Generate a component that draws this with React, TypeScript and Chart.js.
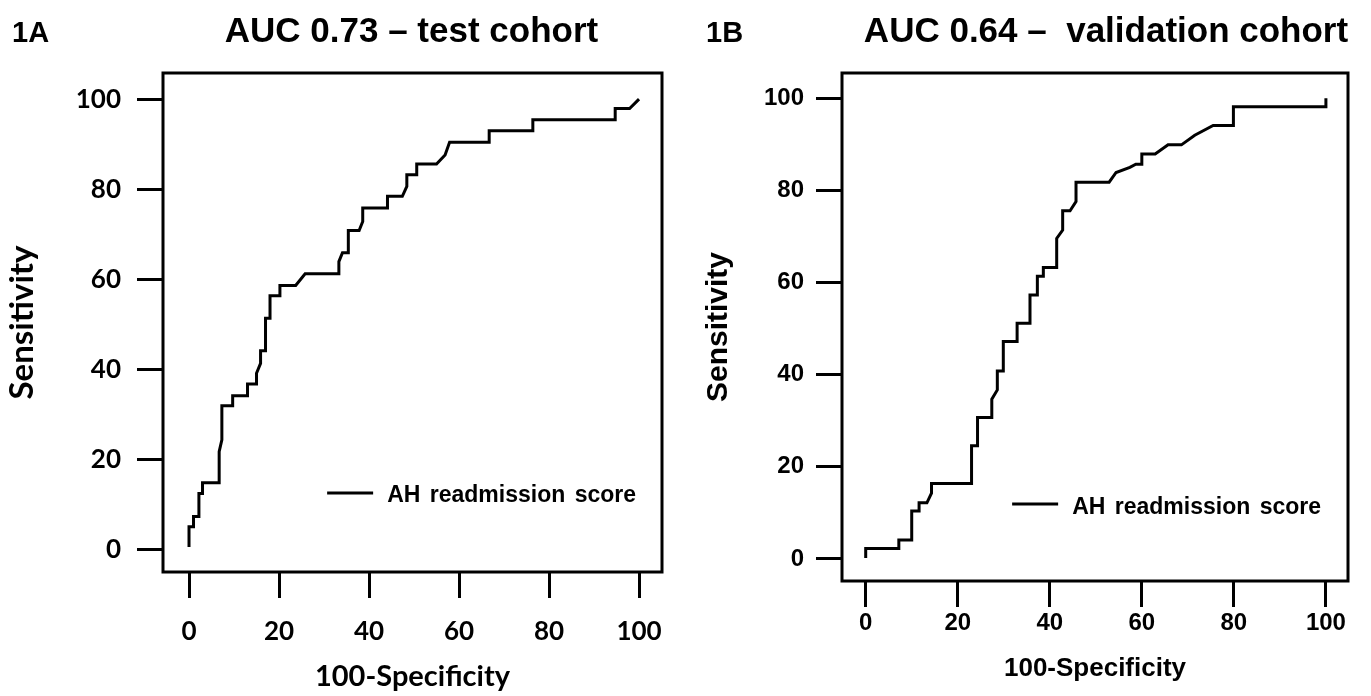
import React, { useEffect, useRef } from 'react';
import { Chart, registerables } from 'chart.js';

Chart.register(...registerables);

// ---------- data ----------
const tickValues = [0, 20, 40, 60, 80, 100];
const seriesLabel = 'AH readmission score';

const panelLabels = ['1A', '1B'];
const panelTitles = ['AUC 0.73 \u2013 test cohort', 'AUC 0.64 \u2013  validation cohort'];
const xAxisTitle = '100-Specificity';
const yAxisTitle = 'Sensitivity';

// Test cohort ROC curve vertices (100-specificity, sensitivity)
const testFpr = [
  0, 0, 1.0, 1.0, 2.2, 2.2, 3.0, 3.0, 6.7, 6.7, 7.3, 7.3, 9.7, 9.7, 13.0, 13.0,
  15.0, 15.0, 15.9, 15.9, 17.0, 17.0, 18.0, 18.0, 20.2, 20.2, 23.7, 25.8, 33.3, 33.3,
  34.1, 35.4, 35.4, 37.8, 38.6, 38.6, 44.1, 44.1, 47.4, 48.4, 48.4, 50.6, 50.6, 55.0,
  56.9, 57.9, 66.7, 66.7, 76.4, 76.4, 94.7, 94.7, 97.9, 100,
];
const testSens = [
  0.5, 5.0, 5.0, 7.3, 7.3, 12.4, 12.4, 14.8, 14.8, 21.7, 24.3, 31.9, 31.9, 34.1, 34.1, 36.7,
  36.7, 39.1, 41.3, 44.1, 44.1, 51.3, 51.3, 56.3, 56.3, 58.6, 58.6, 61.2, 61.2, 63.9,
  65.9, 65.9, 70.8, 70.8, 72.8, 75.8, 75.8, 78.4, 78.4, 80.6, 83.2, 83.2, 85.6, 85.6,
  87.6, 90.4, 90.4, 93.0, 93.0, 95.4, 95.4, 97.9, 97.9, 100,
];

// Validation cohort ROC curve vertices
const valFpr = [
  0, 0, 7.2, 7.2, 10.0, 10.0, 11.6, 11.6, 13.3, 14.3, 14.3, 23.0, 23.0, 24.3, 24.3,
  27.4, 27.4, 28.6, 28.6, 29.9, 29.9, 32.9, 32.9, 35.7, 35.7, 37.3, 37.3, 38.6, 38.6,
  41.5, 41.5, 42.8, 42.8, 44.4, 45.7, 45.7, 52.9, 54.4, 57.4, 58.7, 60.0, 60.0, 62.9,
  65.7, 68.6, 71.5, 75.5, 79.9, 79.9, 100, 100,
];
const valSens = [
  0.2, 2.3, 2.3, 4.1, 4.1, 10.4, 10.4, 12.2, 12.2, 14.3, 16.4, 16.4, 24.6, 24.6, 30.7,
  30.7, 34.7, 36.7, 40.8, 40.8, 47.2, 47.2, 51.2, 51.2, 57.3, 57.3, 61.4, 61.4, 63.3,
  63.3, 69.6, 71.4, 75.6, 75.6, 77.6, 81.8, 81.8, 83.9, 85.0, 85.7, 85.7, 87.9, 87.9,
  89.9, 89.9, 92.0, 94.1, 94.1, 98.2, 98.2, 100,
];

// ---------- plugins ----------
const framePlugin = {
  id: 'frame',
  afterDatasetsDraw(chart: any, _args: any, opts: any) {
    const { ctx, chartArea } = chart;
    const { left, top, right, bottom } = chartArea;
    ctx.save();
    ctx.lineWidth = opts.width ?? 3;
    ctx.strokeStyle = opts.color ?? '#000';
    ctx.lineJoin = 'miter';
    ctx.strokeRect(left, top, right - left, bottom - top);
    ctx.restore();
  },
};

const headingPlugin = {
  id: 'heading',
  afterDraw(chart: any, _args: any, opts: any) {
    const { ctx, chartArea } = chart;
    ctx.save();
    ctx.fillStyle = '#000';
    ctx.textBaseline = 'alphabetic';
    ctx.textAlign = 'left';
    ctx.font = opts.labelFont;
    ctx.fillText(opts.label, opts.labelX, opts.baseline);
    ctx.font = opts.font;
    ctx.textAlign = 'center';
    ctx.fillText(opts.title, (chartArea.left + chartArea.right) / 2 + opts.titleDx, opts.baseline);
    ctx.restore();
  },
};

const insideLegendPlugin = {
  id: 'insideLegend',
  afterDraw(chart: any, _args: any, opts: any) {
    const { ctx, chartArea } = chart;
    const ds = chart.data.datasets[0];
    ctx.save();
    ctx.font = opts.font;
    try { (ctx as any).wordSpacing = opts.wordSpacing; } catch (e) { /* ignore */ }
    const w = ctx.measureText(ds.label).width;
    const textX = chartArea.right - opts.right - w;
    const baseY = chartArea.bottom - opts.bottom;
    ctx.fillStyle = '#000';
    ctx.textAlign = 'left';
    ctx.textBaseline = 'alphabetic';
    ctx.fillText(ds.label, textX, baseY);
    ctx.strokeStyle = ds.borderColor;
    ctx.lineWidth = ds.borderWidth;
    ctx.lineCap = 'butt';
    ctx.beginPath();
    ctx.moveTo(textX - opts.gap - opts.lineLength, baseY - opts.lineRise);
    ctx.lineTo(textX - opts.gap, baseY - opts.lineRise);
    ctx.stroke();
    ctx.restore();
  },
};

// ---------- panel ----------
type PanelCfg = {
  xs: number[];
  ys: number[];
  label: string;
  title: string;
  xMin: number; xMax: number; yMin: number; yMax: number;
  yAxisWidth: number; xAxisHeight: number;
  padTop: number; padRight: number;
  axisFamily: string;
  tickSize: number;
  xTitleSize: number; yTitleSize: number;
  xTickPad: number; yTickPad: number;
  xTitlePad: number; yTitlePad: number;
  labelX: number; titleDx: number; titleBaseline: number;
  legendRight: number; legendBottom: number; legendLineRise: number;
};

function Panel({ cfg, left, width }: { cfg: PanelCfg; left: number; width: number }) {
  const ref = useRef<HTMLCanvasElement | null>(null);
  useEffect(() => {
    if (!ref.current) return;
    const points = cfg.xs.map((x, i) => ({ x, y: cfg.ys[i] }));
    const setTicks = (scale: any) => {
      scale.ticks = tickValues.map((v) => ({ value: v }));
    };
    const grid = {
      display: true,
      drawOnChartArea: false,
      drawTicks: true,
      tickLength: 26,
      tickWidth: 3,
      tickColor: '#000',
      color: '#000',
      lineWidth: 3,
    };
    const chart = new Chart(ref.current, {
      type: 'scatter',
      data: {
        datasets: [
          {
            label: seriesLabel,
            data: points,
            showLine: true,
            borderColor: '#000',
            backgroundColor: '#000',
            borderWidth: 3,
            pointRadius: 0,
            pointHoverRadius: 0,
            tension: 0,
            borderJoinStyle: 'miter',
            borderCapStyle: 'butt',
          } as any,
        ],
      },
      options: {
        animation: false,
        responsive: true,
        maintainAspectRatio: false,
        devicePixelRatio: 1,
        events: [],
        layout: { padding: { top: cfg.padTop, right: cfg.padRight, left: 0, bottom: 0 } },
        scales: {
          x: {
            type: 'linear',
            min: cfg.xMin,
            max: cfg.xMax,
            afterBuildTicks: setTicks,
            afterFit: (s: any) => { s.height = cfg.xAxisHeight; },
            grid: grid as any,
            border: { display: false },
            ticks: {
              color: '#000',
              padding: cfg.xTickPad,
              maxRotation: 0,
              font: { family: cfg.axisFamily, size: cfg.tickSize, weight: 'bold' },
            },
            title: {
              display: true,
              text: xAxisTitle,
              color: '#000',
              padding: { top: 0, bottom: cfg.xTitlePad },
              font: { family: cfg.axisFamily, size: cfg.xTitleSize, weight: 'bold' },
            },
          },
          y: {
            type: 'linear',
            min: cfg.yMin,
            max: cfg.yMax,
            afterBuildTicks: setTicks,
            afterFit: (s: any) => { s.width = cfg.yAxisWidth; },
            grid: grid as any,
            border: { display: false },
            ticks: {
              color: '#000',
              padding: cfg.yTickPad,
              font: { family: cfg.axisFamily, size: cfg.tickSize, weight: 'bold' },
            },
            title: {
              display: true,
              text: yAxisTitle,
              color: '#000',
              padding: { top: cfg.yTitlePad, bottom: 0 },
              font: { family: cfg.axisFamily, size: cfg.yTitleSize, weight: 'bold' },
            },
          },
        },
        plugins: {
          legend: { display: false },
          title: { display: false },
          tooltip: { enabled: false },
          frame: { width: 3, color: '#000' },
          heading: {
            font: 'bold 35px "Liberation Sans", Arial, sans-serif',
            labelFont: 'bold 29px "Liberation Sans", Arial, sans-serif',
            label: cfg.label,
            labelX: cfg.labelX,
            title: cfg.title,
            titleDx: cfg.titleDx,
            baseline: cfg.titleBaseline,
          },
          insideLegend: {
            font: 'bold 23px "Liberation Sans", Arial, sans-serif',
            wordSpacing: '3px',
            right: cfg.legendRight,
            bottom: cfg.legendBottom,
            gap: 14,
            lineLength: 46,
            lineRise: cfg.legendLineRise,
          },
        } as any,
      },
      plugins: [framePlugin, headingPlugin, insideLegendPlugin],
    });
    return () => chart.destroy();
  }, [cfg]);

  return (
    <div style={{ position: 'absolute', left, top: 0, width, height: 696 }}>
      <canvas ref={ref} />
    </div>
  );
}

const panelA: PanelCfg = {
  xs: testFpr, ys: testSens, label: panelLabels[0], title: panelTitles[0],
  xMin: -5.78, xMax: 105.1, yMin: -5.04, yMax: 105.8,
  yAxisWidth: 163, xAxisHeight: 124, padTop: 73, padRight: 28,
  axisFamily: 'Lato, "Open Sans", sans-serif',
  tickSize: 26, xTitleSize: 29, yTitleSize: 33,
  xTickPad: 18, yTickPad: 16, xTitlePad: 2, yTitlePad: 3,
  labelX: 12, titleDx: -1, titleBaseline: 42,
  legendRight: 26, legendBottom: 70, legendLineRise: 9,
};

const panelB: PanelCfg = {
  xs: valFpr, ys: valSens, label: panelLabels[1], title: panelTitles[1],
  xMin: -5.15, xMax: 104.8, yMin: -4.78, yMax: 105.5,
  yAxisWidth: 152, xAxisHeight: 115, padTop: 73, padRight: 23,
  axisFamily: '"Liberation Sans", Arial, sans-serif',
  tickSize: 24, xTitleSize: 26, yTitleSize: 30,
  xTickPad: 2, yTickPad: 12, xTitlePad: 12, yTitlePad: 11,
  labelX: 16, titleDx: 11, titleBaseline: 42,
  legendRight: 27, legendBottom: 67, legendLineRise: 10,
};

export default function App() {
  return (
    <div
      style={{
        position: 'absolute',
        left: 0,
        top: 0,
        width: 1371,
        height: 696,
        overflow: 'hidden',
        background: '#fff',
      }}
    >
      <Panel cfg={panelA} left={0} width={690} />
      <Panel cfg={panelB} left={690} width={681} />
    </div>
  );
}
